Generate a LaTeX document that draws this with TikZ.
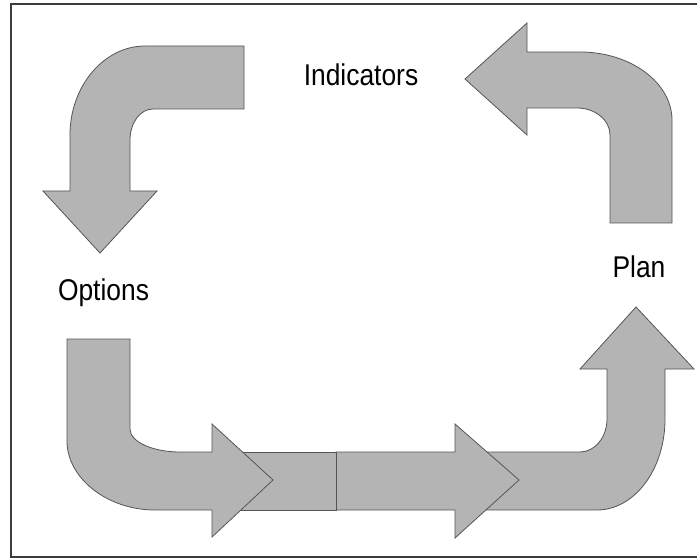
\documentclass[tikz,border=0pt]{standalone}
\usepackage{fontspec}
\setmainfont{Liberation Sans}[FakeStretch=0.88]
\definecolor{arrowfill}{RGB}{180,180,180}
\definecolor{arrowline}{RGB}{85,85,85}
\definecolor{framecol}{RGB}{60,60,60}
\tikzset{
  blockarrow/.style={fill=arrowfill, draw=arrowline, line width=0.8pt, line join=miter},
  label/.style={font=\fontsize{30}{34}\selectfont, inner sep=0pt, anchor=base}
}
\begin{document}
\begin{tikzpicture}[x=1pt,y=-1pt]
\useasboundingbox (0,0) rectangle (697,559);
\fill[white] (0,0) rectangle (697,559);
% frame
\draw[framecol, line width=1.4pt] (704,4) -- (11,4) -- (11,557) -- (704,557);
% top-left arrow (down)
\draw[blockarrow] (244,46) -- (145,46) .. controls (104,46) and (70,86) .. (70,135)
  -- (70,191) -- (43,191) -- (100,253) -- (157,191) -- (130,191) -- (130,140)
  .. controls (130,123) and (140,109) .. (153,109) -- (244,109) -- cycle;
% top-right arrow (left)
\draw[blockarrow] (527,52) -- (580,52) .. controls (631,52) and (672,83) .. (672,120)
  -- (672,223) -- (610,223) -- (610,135) .. controls (610,120) and (595,108) .. (577,108)
  -- (527,108) -- (527,135) -- (465,79) -- (527,23) -- cycle;
% bottom-right arrow (up)
\draw[blockarrow] (480,452) -- (580,452) .. controls (595,452) and (607,437) .. (607,419)
  -- (607,369) -- (580,369) -- (636,307) -- (694,369) -- (665,369) -- (665,419)
  .. controls (665,470) and (634,510) .. (597,510) -- (480,510) -- cycle;
% straight arrow
\draw[blockarrow] (336,452) -- (455,452) -- (455,424) -- (519,480) -- (455,538)
  -- (455,510) -- (336,510) -- cycle;
% rectangle
\draw[blockarrow] (225,452) rectangle (336,510);
% bottom-left arrow (down then right)
\draw[blockarrow] (67,339) -- (130,339) -- (130,429) .. controls (130,442) and (153,452) .. (180,452)
  -- (212,452) -- (212,424) -- (273,480) -- (212,537) -- (212,510)
  -- (155,510) .. controls (107,510) and (67,478) .. (67,441) -- cycle;
% labels
\node[label] (indicators) at (361,86) {Indicators};
\node[label] (options) at (103.5,300) {Options};
\node[label] (plan) at (639,277) {Plan};
\end{tikzpicture}
\end{document}
